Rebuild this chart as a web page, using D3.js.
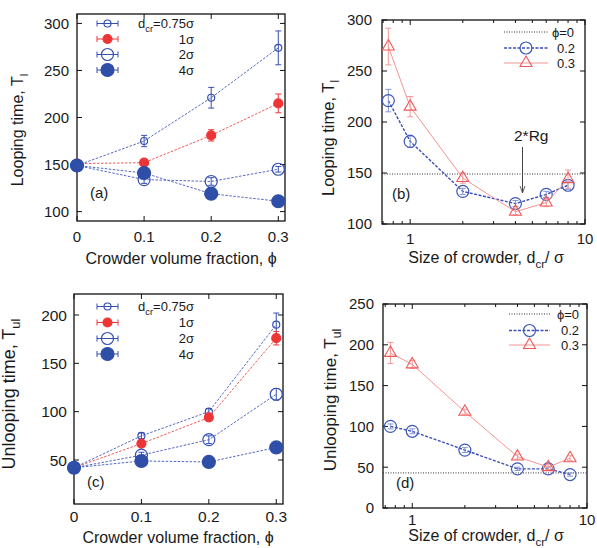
<!DOCTYPE html>
<html><head><meta charset="utf-8">
<script src="https://cdn.jsdelivr.net/npm/d3@7"></script>
<style>body{margin:0;background:#fff}svg{display:block}text{font-family:"Liberation Sans",Arial,sans-serif;fill:#1a1a1a}</style>
</head><body><svg id="c" width="597" height="548"></svg>
<script>
// ---------- data ----------
const phiValues=[0,0.1,0.2,0.3];
const phiTickLabels=["0","0.1","0.2","0.3"];
const crowderSizes=[0.75,1,2,4,6,8];
const sizeTicks=[1,10];
const sizeTickLabels=["1","10"];
const sizeMinorTicks=[0.7,0.8,0.9,2,3,4,5,6,7,8,9];
const loopTicks=[100,150,200,250,300];
const unloopTicksC=[50,100,150,200];
const unloopTicksD=[0,50,100,150,200,250];

const loopD075=[149,175,221,274], loopD075Err=[0,6,11,18];
const loopD1=[151,152,181,215], loopD1Err=[0,3,6,10];
const loopD2=[149,134,132,145], loopD2Err=[0,4,4,3];
const loopD4=[149,141,119,111], loopD4Err=[0,2,2,2];

const loopPhi0=149;
const loopPhi02=[221,181,132,120,129,138], loopPhi02Err=[11,6,3,3,3,4];
const loopPhi03=[274,215,145,112,121,144], loopPhi03Err=[18,10,5,3,4,9];

const unloopD075=[42,75,100,190], unloopD075Err=[0,3,3,12];
const unloopD1=[42,67,94,176], unloopD1Err=[0,3,3,7];
const unloopD2=[42,55,71,118], unloopD2Err=[0,3,4,6];
const unloopD4=[42,49,48,63], unloopD4Err=[0,2,2,3];

const unloopPhi0=43;
const unloopPhi02=[100,94,71,48,48,41], unloopPhi02Err=[3,3,3,2,2,2];
const unloopPhi03=[190,176,118,63,50,61], unloopPhi03Err=[13,5,3,3,3,3];

// ---------- styles ----------
const BLUE="#3550b2", BLUEFILL="#2e4ea8", RED="#ee3535";
const blueDash={stroke:"#5568c4",width:1,dash:"2.5,1.5"};
const redDash={stroke:"#f05a5a",width:1,dash:"2.5,1.5"};
const styleA=[
  {label:"=0.75σ",dcr:true,line:blueDash,marker:"circle",r:3.5,fill:"none",stroke:BLUE,err:BLUE},
  {label:"1σ",line:redDash,marker:"circle",r:4.5,fill:RED,stroke:RED,err:RED},
  {label:"2σ",line:blueDash,marker:"circle",r:6,fill:"none",stroke:BLUE,err:BLUE},
  {label:"4σ",line:blueDash,marker:"circle",r:6.5,fill:BLUEFILL,stroke:BLUEFILL,err:BLUE}
];
const styleB=[
  {label:"0.2",line:{stroke:"#3a4fb8",width:1.4,dash:"3,1.5"},marker:"circle",r:6,fill:"none",stroke:"#3d58b8",err:"#8595d5"},
  {label:"0.3",line:{stroke:"#f39494",width:1,dash:null},marker:"tri",r:6,fill:"none",stroke:"#ee5858",err:"#f29a9a"}
];

const svg=d3.select("#c");

function addSubText(sel,parts,fs){
  parts.forEach(([t,sub],i)=>{
    const ts=sel.append("tspan").text(t);
    if(sub){ts.attr("font-size",fs*0.72).attr("dy",fs*0.3);}
    else if(i>0 && parts[i-1][1]){ts.attr("dy",-fs*0.3);}
  });
}

function makePanel(p){
  const g=svg.append("g");
  const x=(p.log?d3.scaleLog():d3.scaleLinear()).domain(p.xDom).range([p.left,p.right]);
  const y=d3.scaleLinear().domain(p.yDom).range([p.bottom,p.top]);
  const tk=g.append("g").attr("stroke","#111").attr("stroke-width",1);
  p.xTicks.forEach(v=>{
    tk.append("line").attr("x1",x(v)).attr("x2",x(v)).attr("y1",p.bottom).attr("y2",p.bottom-5);
    tk.append("line").attr("x1",x(v)).attr("x2",x(v)).attr("y1",p.top).attr("y2",p.top+5);
  });
  (p.xMinor||[]).forEach(v=>{
    if(v<p.xDom[0]||v>p.xDom[1])return;
    tk.append("line").attr("x1",x(v)).attr("x2",x(v)).attr("y1",p.bottom).attr("y2",p.bottom-3);
    tk.append("line").attr("x1",x(v)).attr("x2",x(v)).attr("y1",p.top).attr("y2",p.top+3);
  });
  p.yTicks.forEach(v=>{
    tk.append("line").attr("y1",y(v)).attr("y2",y(v)).attr("x1",p.left).attr("x2",p.left+5);
    tk.append("line").attr("y1",y(v)).attr("y2",y(v)).attr("x1",p.right).attr("x2",p.right-5);
  });
  p.xTicks.forEach((v,i)=>{
    g.append("text").attr("x",x(v)).attr("y",p.bottom+p.xLabOff).attr("text-anchor","middle")
      .attr("font-size",p.tickFs).text(p.xTickLabels[i]);
  });
  p.yTicks.forEach(v=>{
    g.append("text").attr("x",p.left-p.yLabGap).attr("y",y(v)).attr("dy","0.36em").attr("text-anchor","end")
      .attr("font-size",p.tickFs).text(v);
  });
  g.append("rect").attr("x",p.left).attr("y",p.top).attr("width",p.right-p.left).attr("height",p.bottom-p.top)
    .attr("fill","none").attr("stroke","#111").attr("stroke-width",1.3);
  const xt=g.append("text").attr("x",p.xTitleX).attr("y",p.xTitleY).attr("text-anchor","middle").attr("font-size",p.titleFs);
  addSubText(xt,p.xTitle,p.titleFs);
  const yt=g.append("text").attr("transform",`translate(${p.yTitleX},${p.yTitleY}) rotate(-90)`)
    .attr("text-anchor","middle").attr("font-size",p.yTitleFs);
  addSubText(yt,p.yTitle,p.yTitleFs);
  g.append("text").attr("x",p.tagX).attr("y",p.tagY).attr("font-size",15).text(p.tag);
  return {g,x,y};
}

function drawMarker(g,cx,cy,s){
  if(s.marker==="circle"){
    g.append("circle").attr("cx",cx).attr("cy",cy).attr("r",s.r).attr("fill",s.fill)
      .attr("stroke",s.stroke).attr("stroke-width",1.2);
  } else {
    const side=s.r*2;
    g.append("path").attr("d",d3.symbol(d3.symbolTriangle,side*side*Math.sqrt(3)/4)())
      .attr("transform",`translate(${cx},${cy})`).attr("fill",s.fill).attr("stroke",s.stroke).attr("stroke-width",1.1);
  }
}

function drawSeries(P,xs,vals,errs,s){
  const pts=xs.map((v,i)=>[v,vals[i],errs[i]]);
  const line=d3.line().x(d=>P.x(d[0])).y(d=>P.y(d[1]));
  const l=P.g.append("path").attr("d",line(pts)).attr("fill","none").attr("stroke",s.line.stroke)
    .attr("stroke-width",s.line.width);
  if(s.line.dash)l.attr("stroke-dasharray",s.line.dash);
  pts.forEach(d=>{
    if(d[2]>0){
      const cx=P.x(d[0]),y1=P.y(d[1]-d[2]),y2=P.y(d[1]+d[2]);
      const eg=P.g.append("g").attr("stroke",s.err).attr("stroke-width",1);
      eg.append("line").attr("x1",cx).attr("x2",cx).attr("y1",y1).attr("y2",y2);
      eg.append("line").attr("x1",cx-3).attr("x2",cx+3).attr("y1",y1).attr("y2",y1);
      eg.append("line").attr("x1",cx-3).attr("x2",cx+3).attr("y1",y2).attr("y2",y2);
    }
  });
  pts.forEach(d=>drawMarker(P.g,P.x(d[0]),P.y(d[1]),s));
}

function legendPhi(P,x0,rows,fs){
  const g=P.g;
  const x1=x0[0],x2=x0[1],xm=(x1+x2)/2;
  g.append("line").attr("x1",x1).attr("x2",x2).attr("y1",rows[0][0]).attr("y2",rows[0][0])
    .attr("stroke","#333").attr("stroke-width",1).attr("stroke-dasharray","1,1.5");
  g.append("text").attr("x",rows[0][1]).attr("y",rows[0][0]).attr("dy","0.36em").attr("font-size",fs).text("ϕ=0");
  styleB.forEach((s,i)=>{
    const yy=rows[i+1][0];
    const l=g.append("line").attr("x1",x1).attr("x2",x2).attr("y1",yy).attr("y2",yy)
      .attr("stroke",s.line.stroke).attr("stroke-width",s.line.width);
    if(s.line.dash)l.attr("stroke-dasharray",s.line.dash);
    drawMarker(g,xm,yy,s);
    g.append("text").attr("x",rows[i+1][1]).attr("y",yy).attr("dy","0.36em").attr("font-size",fs).text(s.label);
  });
}

function legendD(P,x1,x2,rowsY,textRight,fs){
  const g=P.g, xm=(x1+x2)/2;
  styleA.forEach((s,i)=>{
    const yy=rowsY[i];
    const eg=g.append("g").attr("stroke",s.err).attr("stroke-width",1);
    eg.append("line").attr("x1",x1).attr("x2",x2).attr("y1",yy).attr("y2",yy);
    eg.append("line").attr("x1",x1).attr("x2",x1).attr("y1",yy-3).attr("y2",yy+3);
    eg.append("line").attr("x1",x2).attr("x2",x2).attr("y1",yy-3).attr("y2",yy+3);
    drawMarker(g,xm,yy,s);
    const t=g.append("text").attr("x",textRight).attr("y",yy).attr("dy","0.36em").attr("text-anchor","end").attr("font-size",fs);
    if(s.dcr) addSubText(t,[["d",false],["cr",true],[s.label,false]],fs);
    else t.text(s.label);
  });
}

// ---------- panel (a) ----------
const A=makePanel({left:77,right:285,top:14,bottom:221,xDom:[0,0.31],yDom:[90,310],
  xTicks:phiValues,xTickLabels:phiTickLabels,yTicks:loopTicks,tickFs:15,xLabOff:21,yLabGap:8,
  titleFs:16,yTitleFs:16,xTitle:[["Crowder volume fraction, ϕ",false]],xTitleX:181,xTitleY:264,
  yTitle:[["Looping time, T",false],["l",true]],yTitleX:23,yTitleY:130,tag:"(a)",tagX:90,tagY:198});
[[loopD075,loopD075Err],[loopD1,loopD1Err],[loopD2,loopD2Err],[loopD4,loopD4Err]]
  .forEach((d,i)=>drawSeries(A,phiValues,d[0],d[1],styleA[i]));
legendD(A,97,118,[23.5,39,54.5,70],194,13);

// ---------- panel (b) ----------
const B=makePanel({left:382,right:585,top:20,bottom:224,log:true,xDom:[0.69,10],yDom:[100,300],
  xTicks:sizeTicks,xTickLabels:sizeTickLabels,xMinor:sizeMinorTicks,yTicks:loopTicks,tickFs:15,xLabOff:20,yLabGap:10,
  titleFs:16,yTitleFs:16.5,xTitle:[["Size of crowder, d",false],["cr",true],["/ σ",false]],xTitleX:486,xTitleY:263,
  yTitle:[["Looping time, T",false],["l",true]],yTitleX:334,yTitleY:138,tag:"(b)",tagX:392,tagY:199});
B.g.append("line").attr("x1",B.x(B.x.domain()[0])).attr("x2",B.x(B.x.domain()[1]))
  .attr("y1",B.y(loopPhi0)).attr("y2",B.y(loopPhi0)).attr("stroke","#333").attr("stroke-width",1).attr("stroke-dasharray","1,1.5");
drawSeries(B,crowderSizes,loopPhi02,loopPhi02Err,styleB[0]);
drawSeries(B,crowderSizes,loopPhi03,loopPhi03Err,styleB[1]);
legendPhi(B,[504,548],[[32,552],[48,557],[63,557]],13);
B.g.append("defs").append("marker").attr("id","ah").attr("viewBox","0 0 10 10").attr("refX",10).attr("refY",5)
  .attr("markerWidth",7).attr("markerHeight",7).attr("orient","auto")
  .append("path").attr("d","M0,1.5 L10,5 L0,8.5").attr("fill","none").attr("stroke","#444").attr("stroke-width",1.2);
B.g.append("line").attr("x1",522.5).attr("x2",522.5).attr("y1",147).attr("y2",193)
  .attr("stroke","#444").attr("stroke-width",1).attr("marker-end","url(#ah)");
B.g.append("text").attr("x",514).attr("y",141).attr("font-size",15.5).text("2*Rg");

// ---------- panel (c) ----------
const C=makePanel({left:74,right:283,top:294,bottom:504,xDom:[0,0.31],yDom:[4.5,221.7],
  xTicks:phiValues,xTickLabels:phiTickLabels,yTicks:unloopTicksC,tickFs:15.5,xLabOff:18,yLabGap:7,
  titleFs:16,yTitleFs:18,xTitle:[["Crowder volume fraction, ϕ",false]],xTitleX:178,xTitleY:543,
  yTitle:[["Unlooping time, T",false],["ul",true]],yTitleX:15,yTitleY:394,tag:"(c)",tagX:87,tagY:487});
[[unloopD075,unloopD075Err],[unloopD1,unloopD1Err],[unloopD2,unloopD2Err],[unloopD4,unloopD4Err]]
  .forEach((d,i)=>drawSeries(C,phiValues,d[0],d[1],styleA[i]));
legendD(C,97,118,[306.5,322.5,338.5,354],194,13);

// ---------- panel (d) ----------
const D=makePanel({left:383,right:587,top:304,bottom:508,log:true,xDom:[0.68,10],yDom:[0,250],
  xTicks:sizeTicks,xTickLabels:sizeTickLabels,xMinor:sizeMinorTicks,yTicks:unloopTicksD,tickFs:15,xLabOff:17,yLabGap:9,
  titleFs:16,yTitleFs:17,xTitle:[["Size of crowder, d",false],["cr",true],["/ σ",false]],xTitleX:486,xTitleY:541,
  yTitle:[["Unlooping time, T",false],["ul",true]],yTitleX:336,yTitleY:400,tag:"(d)",tagX:396,tagY:488});
D.g.append("line").attr("x1",D.x(D.x.domain()[0])).attr("x2",D.x(D.x.domain()[1]))
  .attr("y1",D.y(unloopPhi0)).attr("y2",D.y(unloopPhi0)).attr("stroke","#333").attr("stroke-width",1).attr("stroke-dasharray","1,1.5");
drawSeries(D,crowderSizes,unloopPhi02,unloopPhi02Err,styleB[0]);
drawSeries(D,crowderSizes,unloopPhi03,unloopPhi03Err,styleB[1]);
legendPhi(D,[509,550],[[314,557],[330.5,561],[345,561]],13);
</script></body></html>
